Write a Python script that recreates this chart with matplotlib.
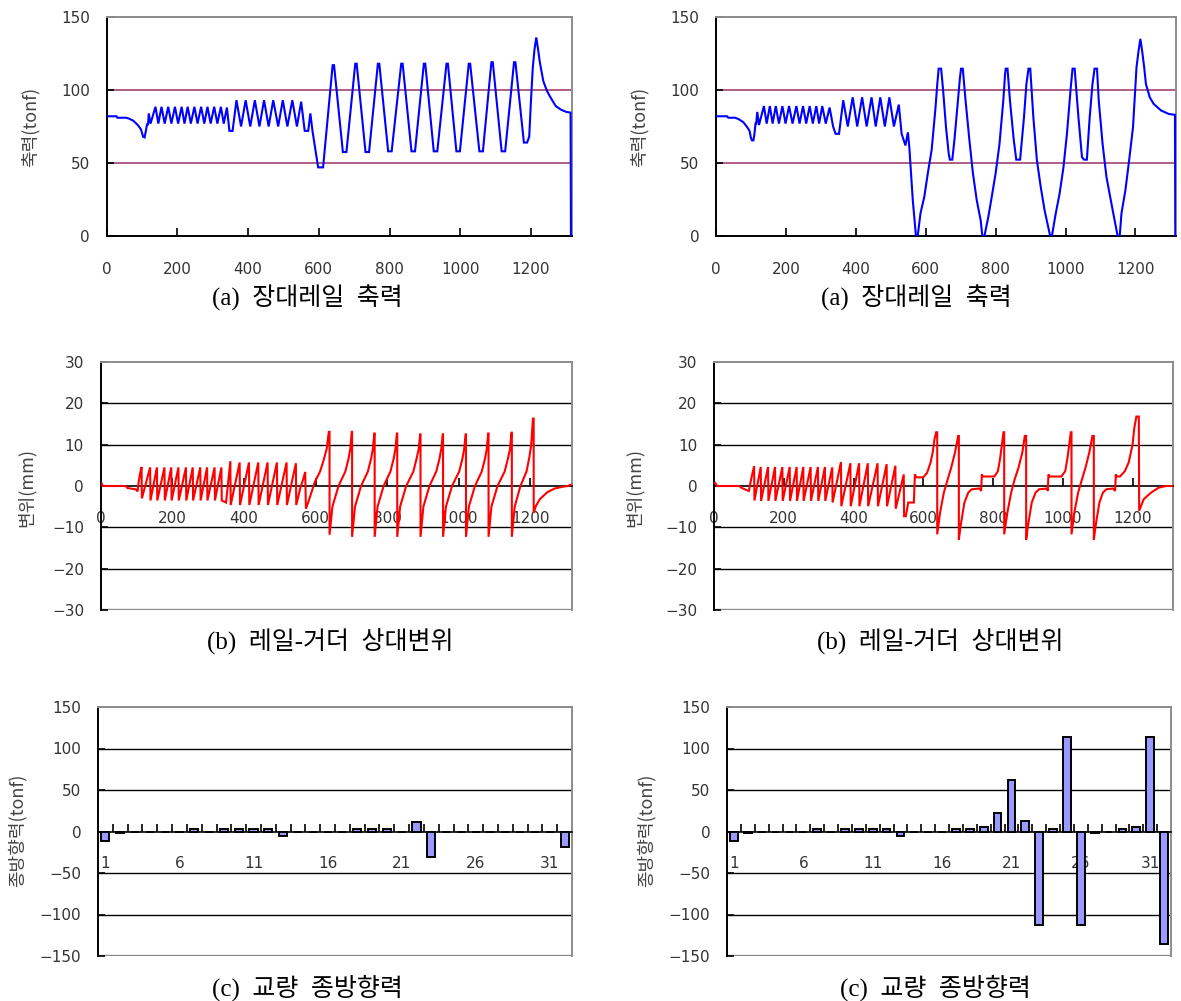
import matplotlib
matplotlib.use("Agg")
import matplotlib.pyplot as plt
import numpy as np

# ---- (a) rail axial force, left case
a1_t = [0, 28, 30, 55, 62, 75, 88, 97, 103, 107, 110, 114, 117, 119,
        124, 138, 146, 155, 164, 174, 183, 193, 202, 212, 220, 229, 238, 248, 257, 267,
        276, 285, 294, 304, 313, 323, 331, 340,
        347, 356, 367, 380, 393, 406, 419, 432, 445, 458, 471, 485, 498, 511, 525, 538,
        550, 560, 570, 576, 582,
        598, 612, 639, 643, 668, 678, 703, 707, 732, 742, 767, 771, 796, 806, 833, 837,
        862, 872, 897, 901, 925, 935, 961, 965, 989, 999, 1024, 1028, 1054, 1064,
        1088, 1092, 1117, 1127, 1152, 1156, 1180, 1189,
        1195, 1200, 1205, 1210, 1215, 1220, 1225, 1235, 1245, 1255, 1270, 1285, 1300, 1312, 1313]
a1_v = [82, 82, 81, 81, 80.5, 79, 76, 73, 68, 67.5, 71, 76.5, 76.5, 84,
        77, 88.5, 77, 88.5, 77, 88.5, 77, 88.5, 77, 88.5, 77, 88.5, 77, 88.5, 77, 88.5,
        77, 88.5, 77, 88.5, 77, 88.5, 77, 88,
        72, 72, 93, 75, 93, 75, 93, 75, 93, 75, 93, 75, 93, 75, 93, 75,
        92, 72, 72, 84, 72,
        47, 47, 117, 117, 57.5, 57.5, 118, 118, 57.5, 57.5, 118, 118, 58, 58, 118, 118,
        58, 58, 118, 118, 58, 58, 118, 118, 58, 58, 118, 118, 58, 58,
        119, 119, 58, 58, 119, 119, 64, 64,
        68, 93, 115, 128, 136, 128, 119, 106, 99.5, 95, 89, 86.5, 85, 84.5, 0]

# ---- (a) rail axial force, right case
a2_t = [0, 32, 35, 55, 65, 78, 88, 96, 100, 103, 107, 110, 113, 115, 118,
        123, 137, 145, 154, 162, 171, 180, 190, 199, 209, 219, 230, 239, 249, 258, 268,
        277, 287, 295, 304, 314, 325,
        335, 342, 352, 364,
        377, 391, 404, 418, 431, 445, 457, 470, 483, 496, 509, 523, 531, 537, 542, 549, 553,
        558, 563, 569, 572, 577, 585, 596, 606, 617, 628, 633, 637, 644, 649, 658, 666,
        669, 676, 682, 692, 698, 701, 706, 714, 725, 735, 746, 757, 762, 768, 779, 789,
        800, 811, 822, 827, 829, 834, 841, 852, 859, 870, 881, 888, 894, 899, 908, 918,
        929, 940, 956, 961, 972, 983, 994, 1004, 1015, 1020, 1026, 1037, 1047, 1053, 1061,
        1069, 1077, 1083, 1090, 1095, 1106, 1117, 1133, 1149, 1155, 1160, 1171, 1182, 1193,
        1198, 1203, 1209, 1214, 1219, 1225, 1230, 1241, 1252, 1273, 1295, 1313, 1314]
a2_v = [82, 82, 81, 81, 80, 78, 75, 72, 67, 65.5, 65.5, 70, 77, 77, 85,
        76, 89, 77, 89, 77, 89, 77, 89, 77, 89, 77, 89, 77, 89, 77, 89,
        77, 89, 77, 89, 77, 88,
        75, 70, 70, 93,
        75, 95, 75, 95, 75, 95, 75, 95, 75, 95, 75, 90, 70, 65.5, 62, 71, 61,
        43, 24.5, 8.6, 0, 0, 15.5, 27, 43, 59, 88, 104, 114.6, 114.6, 102, 74.5, 56,
        52.3, 52.3, 65.5, 92.7, 108.6, 114.6, 114.6, 92.7, 65.5, 43, 24.5, 11, 0, 0, 13, 27,
        43, 63, 93, 111, 114.6, 114.6, 92.7, 65.5, 52.3, 52.3, 81, 104, 114.6, 114.6, 81, 52,
        33.6, 17.7, 0, 0, 15.5, 29, 47, 70, 102, 114.6, 114.6, 81, 54, 52.3, 52.3,
        81, 104, 114.6, 114.6, 92.7, 63, 40.5, 20, 0, 0, 15.5, 31, 52, 74.5,
        95, 115.5, 127, 135, 127, 115.5, 104, 95, 90.5, 86, 83.6, 83, 0]

# ---- (b) rail-girder relative displacement, left case
b1_t = [0, 3, 6, 70, 75, 98, 103, 106, 110, 114, 115,
        138, 139, 157, 158, 178, 179, 197, 198, 217, 218, 238, 239, 257, 258, 278, 279,
        297, 298, 318, 319, 337, 338,
        350, 362, 363, 388, 389, 414, 415, 440, 441, 466, 467, 492, 493, 519, 520, 545, 546,
        557, 566, 571, 573,
        580, 589, 598, 612, 621, 631, 637, 639, 639,
        647, 664, 683, 692, 697, 701, 702, 702,
        710, 727, 746, 755, 760, 764, 765, 765,
        773, 790, 809, 818, 823, 827, 828, 828,
        836, 853, 873, 882, 888, 892, 893, 893,
        901, 918, 937, 946, 951, 955, 956, 956,
        964, 981, 1001, 1010, 1015, 1019, 1020, 1020,
        1028, 1045, 1064, 1073, 1078, 1082, 1083, 1083,
        1091, 1108, 1128, 1137, 1143, 1147, 1148, 1148,
        1156, 1172, 1189, 1197, 1202, 1207, 1209, 1209,
        1215, 1226, 1247, 1268, 1289, 1305, 1312]
b1_v = [0.6, 0.6, 0, 0, -0.5, -0.8, -1.3, 1, 3, 4.6, -3,
        4.5, -3.5, 4.5, -3.5, 4.5, -3.5, 4.5, -3.5, 4.5, -3.5, 4.5, -3.5, 4.5, -3.5, 4.5, -3.5,
        4.5, -3.5, 4.5, -3.5, 4.5, -3.5,
        -4, 6, -4.6, 5.7, -4.6, 5.7, -4.6, 5.7, -4.6, 5.7, -4.6, 5.7, -4.6, 5.7, -4.6, 5.5, -4.6,
        -0.6, 1.8, 3.4, -5.5,
        -3.8, -1.4, 1, 3.4, 5.8, 9, 13.1, 13.1, -11.8,
        -5, 0, 3.5, 6.6, 9, 13.1, 13.1, -12.3,
        -5, 0, 3.5, 6.6, 9, 12.7, 12.7, -12.3,
        -5, 0, 3.5, 6.6, 9, 12.7, 12.7, -12.3,
        -5, 0, 3.5, 6.6, 9, 12.5, 12.5, -12.3,
        -5, 0, 3.5, 6.6, 9, 12.5, 12.5, -12.3,
        -5, 0, 3.5, 6.6, 9, 12.5, 12.5, -12.3,
        -5, 0, 3.5, 6.6, 9, 12.7, 12.7, -12.3,
        -5, 0, 3.5, 6.6, 9, 12.9, 12.9, -12.3,
        -5, 0, 3.5, 7, 10, 16.3, 16.3, -6.5,
        -4.9, -3.2, -1.5, -0.6, -0.2, 0, 0.3]

# ---- (b) rail-girder relative displacement, right case
b2_t = [0, 3, 9, 72, 80, 100, 105, 110, 115, 116,
        134, 135, 155, 156, 175, 176, 196, 197, 217, 218, 237, 238, 256, 257, 277, 278,
        298, 299, 318, 319, 339, 340,
        364, 365, 391, 392, 416, 417, 441, 442, 469, 470, 495, 496, 520, 521, 544, 545,
        550, 557, 573, 576, 580, 600, 611, 621, 627, 632, 637, 640, 640,
        648, 659, 670, 680, 691, 700, 702, 702,
        707, 718, 729, 739, 761, 766, 768, 771, 804, 814, 820, 825, 830, 832, 832,
        841, 852, 862, 873, 884, 891, 895, 895,
        900, 911, 922, 932, 954, 957, 959, 962, 996, 1007, 1013, 1018, 1023, 1025, 1025,
        1033, 1044, 1055, 1065, 1076, 1085, 1089, 1089,
        1094, 1105, 1115, 1125, 1144, 1150, 1152, 1155, 1164, 1178, 1189, 1200, 1205,
        1211, 1218, 1219,
        1232, 1253, 1275, 1296, 1315]
b2_v = [0.8, 0.8, 0, 0, -0.5, -1.2, 1, 3, 4.8, -3.5,
        4.6, -3.6, 4.6, -3.6, 4.6, -3.6, 4.6, -3.6, 4.6, -3.6, 4.6, -3.6, 4.6, -3.6, 4.6, -3.6,
        4.6, -3.6, 4.6, -3.6, 4.5, -4,
        5.8, -4.9, 5.5, -4.9, 5.5, -4.9, 5.5, -4.9, 5.5, -4.9, 5.3, -4.9, 4.9, -5.5, 2.8, -7.3,
        -7.3, -4, -4, 2.8, 2.1, 2.1, 3.2, 5.7, 8.1, 11.3, 13, 13, -11.7,
        -6.5, -1.6, 1.6, 4.4, 8.1, 12.1, 12.1, -13,
        -9.7, -4, -1.6, -0.8, -0.6, -1.2, 2.8, 2.3, 2.3, 3.6, 6.5, 9.7, 13, 13, -11.7,
        -6.5, -1.6, 1.6, 4.4, 8.1, 12.1, 12.1, -13,
        -9.7, -4, -1.6, -0.8, -0.6, -1.2, 2.8, 2.3, 2.3, 3.6, 6.5, 9.7, 13, 13, -11.7,
        -6.5, -1.6, 1.6, 4.4, 8.1, 12.1, 12.1, -13,
        -9.7, -4, -1.6, -0.8, -0.6, -1.2, 2.8, 2.3, 2.3, 3.6, 5.7, 10, 14,
        16.8, 16.8, -6,
        -3.2, -1.6, -0.4, 0, 0]

# ---- (c) bridge longitudinal force per pier
piers = list(range(1, 33))
c1_v = [-12, -2, 0, 0, 0, 0, 3, 0, 3, 3, 3, 3, -5, 0, 0, 0,
        0, 3, 3, 3, 0, 12, -31, 0, 0, 0, 0, 0, 0, 0, 0, -19]
c2_v = [-12, -2, 0, 0, 0, 0, 3, 0, 3, 3, 3, 3, -5, 0, 0, 0,
        3, 3, 5, 22, 62, 13, -113, 3, 114, -113, -2, 0, 3, 5, 114, -135]
pier_labels = [1, 6, 11, 16, 21, 26, 31]

captions = ['(a)  장대레일  축력', '(b)  레일-거더  상대변위', '(c)  교량  종방향력']
ylabels = ['축력(tonf)', '변위(mm)', '종방향력(tonf)']

W, H = 1181, 1001
fig = plt.figure(figsize=(W / 100, H / 100), dpi=100)
KFONT = ['Noto Sans CJK KR', 'DejaVu Sans']
CAPFONT = ['Liberation Serif', 'Noto Sans CJK KR']
TICKC = '#333333'
GRAY = '#8c8c8c'


def rect(l, r, t, b):
    return [l / W, 1 - b / H, (r - l) / W, (b - t) / H]


def frame(ax):
    ax.spines['left'].set_color('black')
    ax.spines['left'].set_linewidth(1.4)
    for s in ['top', 'right']:
        ax.spines[s].set_color(GRAY)
        ax.spines[s].set_linewidth(1.4)
    ax.tick_params(axis='y', direction='in', length=5, width=1.2, pad=12,
                   labelsize=11, labelcolor=TICKC)
    ax.tick_params(axis='x', direction='in', length=6, width=1.2,
                   labelsize=11, labelcolor=TICKC)


def line_panel(box, t, v, color, kind):
    ax = fig.add_axes(rect(*box))
    frame(ax)
    ax.set_xlim(0, 1316)
    ax.set_xticks([0, 200, 400, 600, 800, 1000, 1200])
    if kind == 'a':
        ax.set_ylim(0, 150)
        ax.set_yticks([0, 50, 100, 150])
        for g in [50, 100]:
            ax.axhline(g, color='#993366', lw=1.1, zorder=1)
        ax.spines['bottom'].set_color('black')
        ax.spines['bottom'].set_linewidth(1.4)
        ax.tick_params(axis='x', pad=19)
    else:
        ax.set_ylim(-30, 30)
        ax.set_yticks([-30, -20, -10, 0, 10, 20, 30])
        ax.set_yticklabels(['\u221230', '\u221220', '\u221210', '0', '10', '20', '30'])
        for g in [-20, -10, 10, 20]:
            ax.axhline(g, color='black', lw=1.0, zorder=1)
        ax.spines['bottom'].set_position(('data', 0))
        ax.spines['bottom'].set_color('black')
        ax.spines['bottom'].set_linewidth(1.2)
        ax.axhline(-30, color=GRAY, lw=2.4, zorder=1)
        ax.tick_params(axis='x', pad=18)
    ax.plot(t, v, color=color, lw=1.5, zorder=3, solid_joinstyle='miter')
    return ax


def bar_panel(box, vals):
    ax = fig.add_axes(rect(*box))
    frame(ax)
    ax.set_xlim(0.5, 32.5)
    ax.set_ylim(-150, 150)
    ax.set_yticks([-150, -100, -50, 0, 50, 100, 150])
    ax.set_yticklabels(['\u2212150', '\u2212100', '\u221250', '0', '50', '100', '150'])
    for g in [-100, -50, 50, 100]:
        ax.axhline(g, color='black', lw=1.0, zorder=1)
    ax.spines['bottom'].set_position(('data', 0))
    ax.spines['bottom'].set_color('black')
    ax.spines['bottom'].set_linewidth(1.2)
    ax.axhline(-150, color=GRAY, lw=2.4, zorder=1)
    ax.set_xticks(np.arange(1.5, 32.5, 1.0))
    ax.set_xticklabels([])
    ax.set_xticks(pier_labels, minor=True)
    ax.set_xticklabels([str(p) for p in pier_labels], minor=True)
    ax.tick_params(axis='x', which='minor', length=0, pad=18, labelsize=11,
                   labelcolor=TICKC)
    ax.bar(piers, vals, width=0.55, color='#9999FF', edgecolor='black',
           linewidth=1.4, zorder=3)
    return ax


line_panel((106.7, 572, 17, 236), a1_t, a1_v, '#0000FF', 'a')
line_panel((716, 1176, 17, 236), a2_t, a2_v, '#0000FF', 'a')
line_panel((100.7, 572, 362, 610), b1_t, b1_v, '#FF0000', 'b')
line_panel((714, 1173, 362, 610), b2_t, b2_v, '#FF0000', 'b')
bar_panel((98, 572, 707, 956), c1_v)
bar_panel((727, 1171, 707, 956), c2_v)

# y-axis titles
for (x, y, s) in [(30, 127, ylabels[0]), (639, 127, ylabels[0]),
                  (26, 488, ylabels[1]), (634, 488, ylabels[1]),
                  (17, 830, ylabels[2]), (646, 830, ylabels[2])]:
    fig.text(x / W, 1 - y / H, s, rotation=90, ha='center', va='center',
             fontsize=13, color='#444444', family=KFONT)

# captions
for (x, y, s) in [(307, 298, captions[0]), (916, 298, captions[0]),
                  (330, 642, captions[1]), (940, 642, captions[1]),
                  (307, 988, captions[2]), (935, 988, captions[2])]:
    fig.text(x / W, 1 - y / H, s, ha='center', va='center', fontsize=18,
             color='black', family=CAPFONT)

fig.savefig('out.png', dpi=100)
